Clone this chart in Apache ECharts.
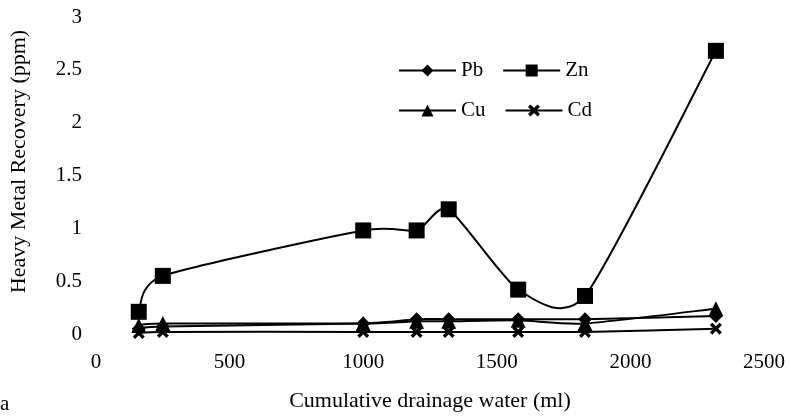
<!DOCTYPE html>
<html>
<head>
<meta charset="utf-8">
<script src="https://cdn.jsdelivr.net/npm/echarts@6/dist/echarts.min.js"></script>
<style>html,body{margin:0;padding:0;background:#fff}#c{width:791px;height:417px}</style>
</head>
<body>
<div id="c"></div>
<script>
const drainage = [160, 250, 1000, 1200, 1320, 1580, 1830, 2320];
const pb = [0.05, 0.07, 0.10, 0.14, 0.14, 0.14, 0.14, 0.17];
const zn = [0.21, 0.55, 0.98, 0.98, 1.18, 0.42, 0.36, 2.68];
const cu = [0.08, 0.10, 0.10, 0.12, 0.12, 0.13, 0.10, 0.24];
const cd = [0.01, 0.02, 0.02, 0.02, 0.02, 0.02, 0.02, 0.05];
const seriesNames = ['Pb', 'Zn', 'Cu', 'Cd'];
const xTitle = 'Cumulative drainage water (ml)';
const yTitle = 'Heavy Metal Recovery (ppm)';
const panelLabel = 'a';

const font = 'Liberation Serif';
const FS = 21;
const TFS = 22;
const X_PATH = 'path://M0,2 L2,0 L5,3 L8,0 L10,2 L7,5 L10,8 L8,10 L5,7 L2,10 L0,8 L3,5 Z';
const pairs = arr => drainage.map((x, i) => [x, arr[i]]);
const TENSION = 1 / 9;

// marker-only line series (legend + symbols)
const markers = (name, data, symbol, size) => ({
  name, type: 'line', data: pairs(data), z: 3,
  symbol, symbolSize: size,
  lineStyle: { color: '#000', width: 0, opacity: 0 },
  itemStyle: { color: '#000' }
});
// smoothed curve (Catmull-Rom style, like a spreadsheet smoothed line)
const curve = (name, vals) => ({
  name: name + ' curve', type: 'custom', z: 2, silent: true,
  data: pairs(vals),
  renderItem: (params, api) => {
    const i = params.dataIndex, n = vals.length;
    if (i >= n - 1) return null;
    const P = j => {
      const k = Math.max(0, Math.min(n - 1, j));
      return api.coord([drainage[k], vals[k]]);
    };
    const p0 = P(i - 1), p1 = P(i), p2 = P(i + 1), p3 = P(i + 2);
    return {
      type: 'bezierCurve',
      shape: {
        x1: p1[0], y1: p1[1], x2: p2[0], y2: p2[1],
        cpx1: p1[0] + (p2[0] - p0[0]) * TENSION, cpy1: p1[1] + (p2[1] - p0[1]) * TENSION,
        cpx2: p2[0] - (p3[0] - p1[0]) * TENSION, cpy2: p2[1] - (p3[1] - p1[1]) * TENSION
      },
      style: { stroke: '#000', lineWidth: 2, fill: null }
    };
  }
});

const legendLine = { color: '#000', width: 2, opacity: 1, type: 'solid' };

const chart = echarts.init(document.getElementById('c'), null, { renderer: 'canvas' });
chart.setOption({
  animation: false,
  backgroundColor: '#fff',
  textStyle: { fontFamily: font, color: '#000' },
  grid: { left: 84, right: 27, top: 17, bottom: 82, containLabel: false },
  legend: {
    left: 398, top: 60, width: 240, padding: 0,
    itemWidth: 57, itemHeight: 15, itemGap: 19,
    textStyle: { fontFamily: font, fontSize: FS, color: '#000', padding: [0, 8, 0, 0] },
    data: seriesNames.map(n => ({ name: n, lineStyle: legendLine }))
  },
  xAxis: {
    type: 'value', min: 0, max: 2500, interval: 500,
    name: xTitle, nameLocation: 'middle', nameGap: 56,
    nameTextStyle: { fontFamily: font, fontSize: TFS, color: '#000' },
    axisLine: { show: false }, axisTick: { show: false }, splitLine: { show: false },
    axisLabel: { fontFamily: font, fontSize: FS, color: '#000', margin: 18, formatter: v => String(v) }
  },
  yAxis: {
    type: 'value', min: 0, max: 3, interval: 0.5,
    name: yTitle, nameLocation: 'middle', nameGap: 66,
    nameTextStyle: { fontFamily: font, fontSize: TFS, color: '#000', padding: [0, 0, 0, 28] },
    axisLine: { show: false }, axisTick: { show: false }, splitLine: { show: false },
    axisLabel: { fontFamily: font, fontSize: FS, color: '#000', margin: 14 }
  },
  graphic: [{
    type: 'text', left: 0, top: 394,
    style: { text: panelLabel, font: FS + 'px "Liberation Serif"', fill: '#000' }
  }],
  series: [
    curve('Pb', pb), curve('Zn', zn), curve('Cu', cu), curve('Cd', cd),
    markers('Pb', pb, 'diamond', 14),
    markers('Zn', zn, 'rect', 16),
    markers('Cu', cu, 'triangle', 15),
    markers('Cd', cd, X_PATH, 12)
  ]
});
</script>
</body>
</html>
